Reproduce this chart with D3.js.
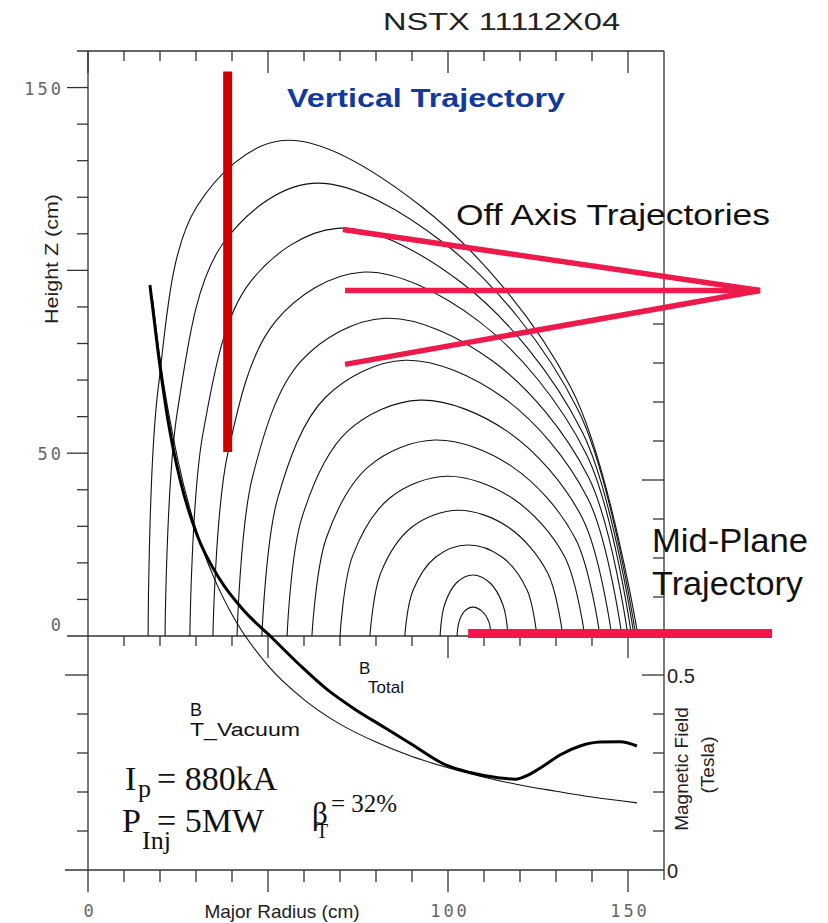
<!DOCTYPE html>
<html>
<head>
<meta charset="utf-8">
<script src="https://cdn.jsdelivr.net/npm/d3@7"></script>
<style>
  body { margin: 0; background: #fff; }
</style>
</head>
<body>
<svg id="chart" width="828" height="923" font-family="Liberation Sans, Arial, sans-serif"></svg>
<script>
// flux surfaces, [R, Z] in cm, innermost first
var fluxSurfaces = [
  [[102.5,0],[103.1,4.0],[104.6,6.8],[106.9,7.9],[109.4,6.8],[111.3,4.0],[112,0]],
  [[97.8,0],[99.0,8.4],[102.3,14.5],[106.9,16.7],[111.7,14.5],[115.3,8.4],[116.7,0]],
  [[88,0],[90.3,12.5],[96.6,21.6],[105.6,24.9],[115.0,21.6],[122.0,12.5],[124.7,0]],
  [[78.3,0],[81.3,17.2],[90.0,29.8],[102.8,34.4],[116.7,29.8],[127.7,17.2],[131.9,0]],
  [[70,0],[73.5,21.9],[83.9,37.8],[99.7,43.7],[117.7,37.8],[132.3,21.9],[138,0]],
  [[62.2,0],[66.2,26.8],[78.0,46.4],[96.4,53.6],[117.7,46.4],[135.3,26.8],[142.2,0]],
  [[55.3,0],[59.4,32.3],[72.0,55.9],[92.2,64.5],[116.6,55.9],[137.3,32.3],[145.5,0]],
  [[48.3,0],[52.7,37.7],[66.0,65.3],[88,75.4],[115.2,65.3],[138.8,37.7],[148.3,0]],
  [[41.4,0],[45.7,43.5],[59.3,75.3],[82.5,86.9],[112.3,75.3],[139.0,43.5],[150,0]],
  [[34.7,0],[38.8,49.8],[52.2,86.2],[76.1,99.5],[108.4,86.2],[138.4,49.8],[151,0]],
  [[28.3,0],[32.0,55.8],[44.9,96.6],[69.2,111.5],[103.8,96.6],[137.3,55.8],[151.7,0]],
  [[21.4,0],[24.9,61.9],[37.4,107.2],[62.2,123.8],[99.2,107.2],[136.1,61.9],[152.2,0]],
  [[16.7,0],[19.5,67.8],[30.2,117.4],[53.9,135.5],[92.7,117.4],[134.2,67.8],[152.8,0]]
];

// total field along the mid-plane
var bTotalR = [17.2, 19.4, 22.2, 25.6, 30.3, 36.7, 43.6, 50.6, 58.9, 66.4, 74, 81.9, 90, 99.7, 106.1, 114.4, 118.6, 122.8, 126.9, 131.1, 136.7, 142.2, 147.8, 152.5];
var bTotalB = [1.50, 1.333, 1.154, 1.0, 0.859, 0.744, 0.662, 0.60, 0.525, 0.463, 0.413, 0.368, 0.322, 0.268, 0.250, 0.236, 0.233, 0.246, 0.269, 0.295, 0.318, 0.328, 0.329, 0.318];

// vacuum toroidal field
var bVacR = [18, 20, 25, 30, 35, 40, 50, 60, 70, 80, 90, 100, 110, 120, 130, 140, 152.5];
var bVacB = [1.46, 1.31, 1.05, 0.873, 0.749, 0.655, 0.524, 0.437, 0.374, 0.328, 0.291, 0.262, 0.238, 0.218, 0.202, 0.187, 0.172];

// beam trajectories [R, Z]
var verticalTraj = [[38.8, 50.3], [38.8, 154.4]];
var offAxisTraj = [
  [[70.8, 111.2], [186.7, 94.5]],
  [[71.4, 94.5], [186.7, 94.5]],
  [[71.4, 74.3], [186.7, 94.5]]
];
var midPlaneTraj = [[105.6, 0.7], [190, 0.7]];

var leftTickLabels = [150, 50, 0];
var bottomTickLabels = [0, 100, 150];
var rightTickLabels = [0.5, 0];

var svg = d3.select('#chart');

var x = d3.scaleLinear().domain([0, 160]).range([88, 664]);
var z = d3.scaleLinear().domain([0, 160]).range([636, 51]);
var b = d3.scaleLinear().domain([0, 0.6]).range([870, 636]);

var axisColor = '#333';

function isMajor(v, step) {
  return Math.abs(v / step - Math.round(v / step)) < 1e-6;
}

// frame
var frame = svg.append('g').attr('stroke', axisColor).attr('stroke-width', 1.3);
frame.append('line').attr('x1', x(0)).attr('x2', x(0)).attr('y1', z(160)).attr('y2', b(0) + 22);
frame.append('line').attr('x1', x(160)).attr('x2', x(160)).attr('y1', z(160)).attr('y2', b(0) + 10);
frame.append('line').attr('x1', x(0) - 11).attr('x2', x(160)).attr('y1', z(160)).attr('y2', z(160));
frame.append('line').attr('x1', x(0) - 21).attr('x2', x(160)).attr('y1', z(0)).attr('y2', z(0));
frame.append('line').attr('x1', x(0) - 23).attr('x2', x(160)).attr('y1', b(0)).attr('y2', b(0));

// z ticks on the left (outward)
frame.selectAll('.zt').data(z.ticks(16).filter(function (v) { return v > 0 && v < 160; }))
  .enter().append('line')
  .attr('x1', x(0)).attr('x2', function (d) { return x(0) - (isMajor(d, 50) ? 21 : 11); })
  .attr('y1', function (d) { return z(d); }).attr('y2', function (d) { return z(d); });

// B ticks on the lower left (outward)
frame.selectAll('.blt').data(d3.range(1, 6).map(function (i) { return i / 10; }))
  .enter().append('line')
  .attr('x1', x(0)).attr('x2', function (d) { return x(0) - (isMajor(d, 0.5) ? 23 : 11); })
  .attr('y1', function (d) { return b(d); }).attr('y2', function (d) { return b(d); });

// B ticks on the right (inward)
frame.selectAll('.brt').data(d3.range(1, 15).map(function (i) { return i / 10; }))
  .enter().append('line')
  .attr('x1', x(160)).attr('x2', function (d) { return x(160) - (isMajor(d, 0.5) ? 22 : 11); })
  .attr('y1', function (d) { return b(d); }).attr('y2', function (d) { return b(d); });

// R ticks: top (inward), mid-plane (downward), bottom (outward)
var rTicks = x.ticks(16).filter(function (v) { return v < 160; });
[[z(160), 22, 10], [z(0), 22, 10], [b(0), 22, 12]].forEach(function (p) {
  frame.selectAll(null).data(rTicks.filter(function (v) { return v > 0 || p[0] === z(160); }))
    .enter().append('line')
    .attr('x1', function (d) { return x(d); }).attr('x2', function (d) { return x(d); })
    .attr('y1', p[0]).attr('y2', function (d) { return p[0] + (isMajor(d, 50) ? p[1] : p[2]); });
});

// flux surfaces
var surfLine = d3.line()
  .x(function (d) { return x(d[0]); })
  .y(function (d) { return z(d[1]); })
  .curve(d3.curveCatmullRom.alpha(0.5));

svg.append('g').selectAll('path').data(fluxSurfaces).enter().append('path')
  .attr('d', surfLine)
  .attr('fill', 'none').attr('stroke', '#111').attr('stroke-width', 1.1);

// field profiles
var fieldLine = d3.line()
  .x(function (d) { return x(d[0]); })
  .y(function (d) { return b(d[1]); })
  .curve(d3.curveMonotoneX);

svg.append('path')
  .datum(bVacR.map(function (r, i) { return [r, bVacB[i]]; }))
  .attr('d', fieldLine).attr('fill', 'none').attr('stroke', '#111').attr('stroke-width', 1.1);

svg.append('path')
  .datum(bTotalR.map(function (r, i) { return [r, bTotalB[i]]; }))
  .attr('d', fieldLine).attr('fill', 'none').attr('stroke', '#000').attr('stroke-width', 3);

// tick labels
var numStyle = function (sel) {
  sel.style('font-family', '"DejaVu Sans Mono", monospace').attr('font-size', 17)
    .attr('letter-spacing', 3).attr('fill', '#666');
};
svg.selectAll('.ll').data(leftTickLabels).enter().append('text')
  .call(numStyle).attr('text-anchor', 'end').attr('x', 64)
  .attr('y', function (d) { return d === 0 ? z(d) - 5 : z(d) + 7; })
  .text(function (d) { return d; });
svg.selectAll('.bl').data(bottomTickLabels).enter().append('text')
  .call(numStyle).attr('text-anchor', 'middle')
  .attr('x', function (d) { return x(d) + 2; }).attr('y', 917)
  .text(function (d) { return d; });
svg.selectAll('.rl').data(rightTickLabels).enter().append('text')
  .attr('x', 667).attr('y', function (d) { return b(d) + 8; })
  .attr('font-size', 20).attr('fill', '#222')
  .text(function (d) { return d; });

// axis titles
svg.append('text').attr('x', 383).attr('y', 30).attr('font-size', 24).attr('fill', '#222')
  .attr('textLength', 237).attr('lengthAdjust', 'spacingAndGlyphs').text('NSTX  11112X04');
svg.append('text').attr('x', 282).attr('y', 918).attr('text-anchor', 'middle')
  .attr('font-size', 19).attr('fill', '#222').text('Major Radius (cm)');
svg.append('text').attr('transform', 'translate(58,259) rotate(-90)').attr('text-anchor', 'middle')
  .attr('font-size', 19).attr('fill', '#222')
  .attr('textLength', 130).attr('lengthAdjust', 'spacingAndGlyphs').text('Height Z (cm)');
svg.append('text').attr('transform', 'translate(688,769) rotate(-90)').attr('text-anchor', 'middle')
  .attr('font-size', 19).attr('fill', '#222').text('Magnetic Field');
svg.append('text').attr('transform', 'translate(714,765) rotate(-90)').attr('text-anchor', 'middle')
  .attr('font-size', 19).attr('fill', '#222').text('(Tesla)');

// field labels
svg.append('text').attr('x', 190).attr('y', 716).attr('font-size', 18).attr('fill', '#111').text('B');
svg.append('text').attr('x', 190).attr('y', 736).attr('font-size', 18).attr('fill', '#111')
  .attr('textLength', 110).attr('lengthAdjust', 'spacingAndGlyphs').text('T_Vacuum');
svg.append('text').attr('x', 359).attr('y', 674).attr('font-size', 17).attr('fill', '#111').text('B');
svg.append('text').attr('x', 368).attr('y', 693).attr('font-size', 17).attr('fill', '#111').text('Total');

// shot parameters, each with its subscript in one text element
var serif = '"Liberation Serif", "Times New Roman", serif';
function serifLabel(py, parts) {
  var t = svg.append('text').attr('y', py).style('font-family', serif).attr('fill', '#111');
  parts.forEach(function (p) {
    t.append('tspan').attr('x', p[0]).attr('dy', p[1]).attr('font-size', p[2]).text(p[3]);
  });
  return t;
}
serifLabel(790, [[125, 0, 34, 'I'], [138, 7, 26, 'p'], [157, -7, 34, '= 880kA']]);
serifLabel(832, [[122, 0, 34, 'P'], [142, 17, 26, 'Inj'], [157, -17, 34, '= 5MW']]);
serifLabel(824, [[312, 0, 31, '\u03B2'], [316, 14, 20, 'T'], [331, -26, 25, '= 32%']]);

// trajectories
var trajLine = d3.line()
  .x(function (d) { return x(d[0]); })
  .y(function (d) { return z(d[1]); });

svg.append('path').datum(verticalTraj).attr('d', trajLine)
  .attr('stroke', '#cc0000').attr('stroke-width', 9).attr('fill', 'none');
svg.append('g').selectAll('path').data(offAxisTraj).enter().append('path')
  .attr('d', trajLine).attr('stroke', '#ef1a4c').attr('stroke-width', 5.5).attr('fill', 'none');
svg.append('path').datum(midPlaneTraj).attr('d', trajLine)
  .attr('stroke', '#f0164a').attr('stroke-width', 9).attr('fill', 'none');

// annotations
svg.append('text').attr('x', 287).attr('y', 107).attr('font-size', 26).attr('font-weight', 'bold')
  .attr('fill', '#12399d').attr('textLength', 278).attr('lengthAdjust', 'spacingAndGlyphs')
  .text('Vertical Trajectory');
svg.append('text').attr('x', 456).attr('y', 225).attr('font-size', 30).attr('fill', '#111')
  .attr('textLength', 314).attr('lengthAdjust', 'spacingAndGlyphs').text('Off Axis Trajectories');
svg.append('text').attr('x', 652).attr('y', 552).attr('font-size', 33).attr('fill', '#111')
  .attr('textLength', 156).attr('lengthAdjust', 'spacingAndGlyphs').text('Mid-Plane');
svg.append('text').attr('x', 652).attr('y', 595).attr('font-size', 33).attr('fill', '#111')
  .attr('textLength', 151).attr('lengthAdjust', 'spacingAndGlyphs').text('Trajectory');
</script>
</body>
</html>
